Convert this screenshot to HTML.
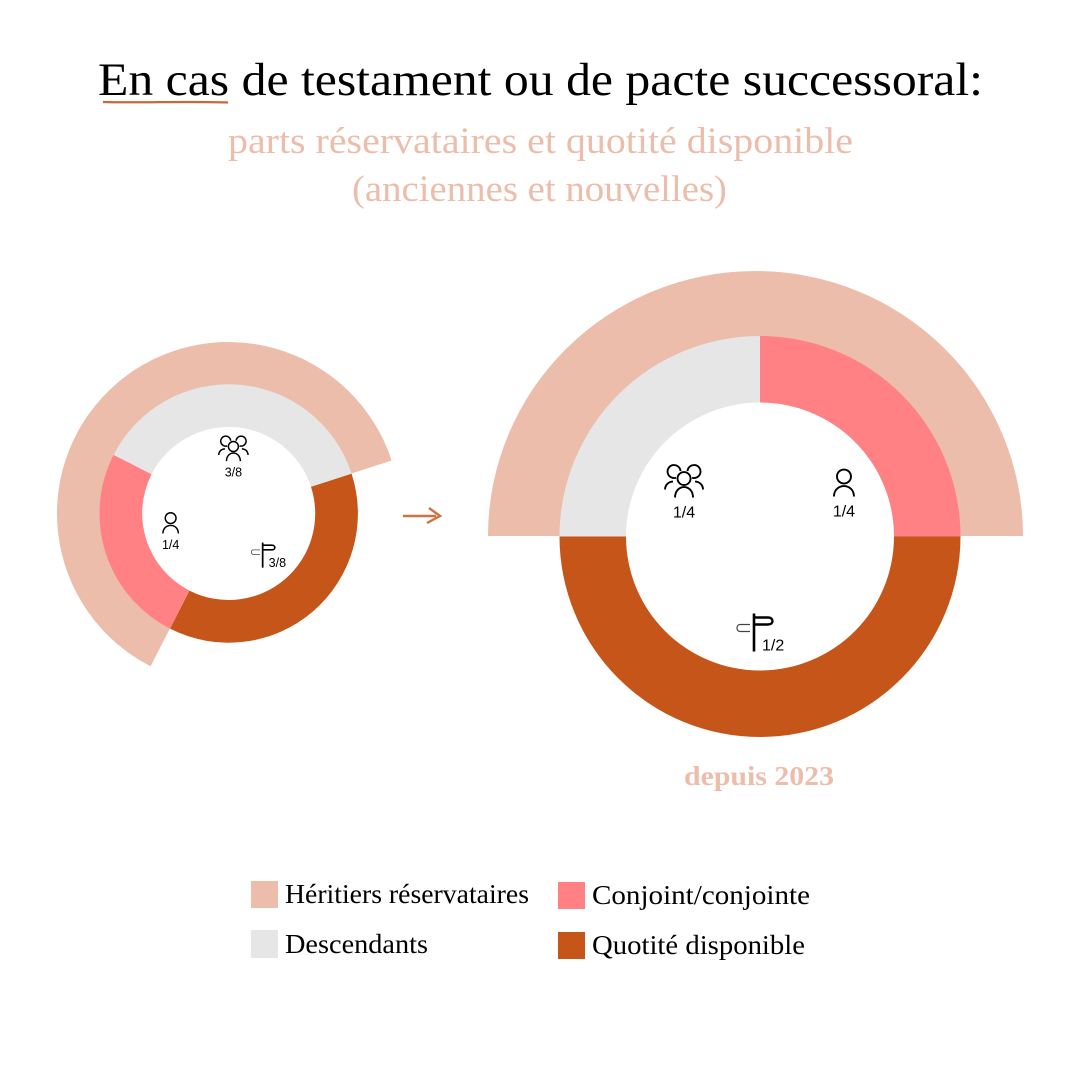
<!DOCTYPE html>
<html lang="fr">
<head>
<meta charset="utf-8">
<title>Parts réservataires et quotité disponible</title>
<style>
html,body{margin:0;padding:0;background:#fff;width:1080px;height:1080px;overflow:hidden}
svg{display:block}
.serif{font-family:"Liberation Serif",serif}
.frac{font-family:"Liberation Sans",sans-serif;fill:#000}
</style>
</head>
<body>
<svg id="chart" xmlns="http://www.w3.org/2000/svg" width="1080" height="1080" viewBox="0 0 1080 1080">
  <text class="serif" x="98" y="95" font-size="47" fill="#000" textLength="885" lengthAdjust="spacingAndGlyphs">En cas de testament ou de pacte successoral:</text>
  <path d="M103 102 C140 103 190 101 228 102.5" fill="none" stroke="#c9683a" stroke-width="2.2"/>
  <text class="serif" x="228" y="153" font-size="37" fill="#ecbdab" textLength="625" lengthAdjust="spacingAndGlyphs">parts réservataires et quotité disponible</text>
  <text class="serif" x="352" y="201" font-size="37" fill="#ecbdab" textLength="375" lengthAdjust="spacingAndGlyphs">(anciennes et nouvelles)</text>
  <g id="old-donut"></g>
  <g id="new-donut"></g>
  <path d="M403 516 H436 M429 508 L440 516 L427 523" fill="none" stroke="#cf7140" stroke-width="2.4"/>
  <text class="serif" x="684" y="785" font-size="27" font-weight="700" fill="#ecbdab" textLength="150" lengthAdjust="spacingAndGlyphs">depuis 2023</text>
  <g>
    <rect x="251" y="881" width="27" height="27" fill="#ecbdab"/>
    <text class="serif" x="285" y="903" font-size="27" textLength="244" lengthAdjust="spacingAndGlyphs">Héritiers réservataires</text>
    <rect x="251" y="930" width="27" height="28" fill="#e6e6e6"/>
    <text class="serif" x="285" y="953" font-size="27" textLength="143" lengthAdjust="spacingAndGlyphs">Descendants</text>
    <rect x="558" y="882" width="27" height="27" fill="#ff8184"/>
    <text class="serif" x="592" y="904" font-size="27" textLength="218" lengthAdjust="spacingAndGlyphs">Conjoint/conjointe</text>
    <rect x="558" y="932" width="27" height="27" fill="#c55518"/>
    <text class="serif" x="592" y="954" font-size="27" textLength="213" lengthAdjust="spacingAndGlyphs">Quotité disponible</text>
  </g>
</svg>
<script>
// Data: slice order runs clockwise from each donut's start angle.
const oldCategories = ['quotite', 'conjoint', 'descendants'];
const oldShares = [0.375, 0.25, 0.375];
const oldLabels = ['3/8', '1/4', '3/8'];
const oldReservedShare = 0.625;

const newCategories = ['quotite', 'descendants', 'conjoint'];
const newShares = [0.5, 0.25, 0.25];
const newLabels = ['1/2', '1/4', '1/4'];
const newReservedShare = 0.5;

const colors = {quotite: '#c55518', conjoint: '#ff8184', descendants: '#e6e6e6', reserved: '#ecbdab'};
const NS = 'http://www.w3.org/2000/svg';

function polar(cx, cy, rx, ry, turn) {
  const a = turn * 2 * Math.PI;
  return [cx + rx * Math.sin(a), cy - ry * Math.cos(a)];
}
function arcPath(cx, cy, r0, rx, ry, t0, t1) {
  const large = (t1 - t0) > 0.5 ? 1 : 0;
  const a = polar(cx, cy, rx, ry, t0), b = polar(cx, cy, rx, ry, t1);
  const c = polar(cx, cy, r0, r0, t1), d = polar(cx, cy, r0, r0, t0);
  return 'M' + a[0] + ' ' + a[1] + 'A' + rx + ' ' + ry + ' 0 ' + large + ' 1 ' + b[0] + ' ' + b[1] +
         'L' + c[0] + ' ' + c[1] + 'A' + r0 + ' ' + r0 + ' 0 ' + large + ' 0 ' + d[0] + ' ' + d[1] + 'Z';
}
const iconShapes = {
  conjoint: '<circle cx="0" cy="-9" r="7"/><path d="M-10 11 C-10 -3 10 -3 10 11"/>',
  descendants: '<circle cx="0" cy="-8" r="6.5"/><path d="M-9 11 C-9 -3 9 -3 9 11"/>' +
    '<path d="M-3.5 -15.5 A6.5 6.5 0 1 0 -8 -8.8"/><path d="M3.5 -15.5 A6.5 6.5 0 1 1 8 -8.8"/>' +
    '<path d="M-19 3 C-19 -2 -15 -5 -11 -5"/><path d="M19 3 C19 -2 15 -5 11 -5"/>',
  quotite: '<path d="M0 -19 V19" stroke-width="2.6"/><path d="M0 -15 H14 C20 -15 20 -8 14 -8 H0" stroke-width="2.4"/>' +
    '<path d="M-4 -8 H-14 C-18 -8 -18 -1 -14 -1 H-4" stroke="#444" stroke-width="1.2"/>'
};
function drawDonut(host, cfg) {
  const start = cfg.start;
  const reserved = document.createElementNS(NS, 'path');
  
  
  const resStart = start + cfg.shares[0];
  reserved.setAttribute('d', arcPath(cfg.ox, cfg.oy, cfg.r1 - 20, cfg.outerRx, cfg.outerRy, resStart, resStart + cfg.reserved));
  reserved.setAttribute('fill', colors.reserved);
  host.appendChild(reserved);

  let t = start;
  cfg.shares.forEach(function (share, i) {
    const cat = cfg.categories[i];
    const slice = document.createElementNS(NS, 'path');
    
    
    slice.setAttribute('d', arcPath(cfg.cx, cfg.cy, cfg.r0, cfg.r1, cfg.r1, t, t + share));
    slice.setAttribute('fill', colors[cat]);
    host.appendChild(slice);
    t += share;
  });

  t = start;
  cfg.shares.forEach(function (share, i) {
    const cat = cfg.categories[i];
    const mid = t + share / 2;
    const p = polar(cfg.cx, cfg.cy, cfg.labelR, cfg.labelR, mid);
    const off = cfg.offsets[cat];
    const x = p[0] + off[0], y = p[1] + off[1];
    const icon = document.createElementNS(NS, 'g');
    
    
    icon.setAttribute('transform', 'translate(' + x + ' ' + y + ') scale(' + cfg.iconScale[cat] + ')');
    icon.setAttribute('fill', 'none');
    icon.setAttribute('stroke', '#000');
    icon.setAttribute('stroke-width', '1.9');
    icon.innerHTML = iconShapes[cat];
    host.appendChild(icon);

    const txt = document.createElementNS(NS, 'text');
    
    
    txt.setAttribute('class', 'frac');
    txt.setAttribute('font-size', cfg.fontSize);
    if (cat === 'quotite') {
      txt.setAttribute('x', x + cfg.signDx);
      txt.setAttribute('y', y + cfg.signDy);
    } else {
      txt.setAttribute('text-anchor', 'middle');
      txt.setAttribute('x', x);
      txt.setAttribute('y', y + cfg.textDy);
    }
    txt.textContent = cfg.labels[i];
    host.appendChild(txt);
    t += share;
  });
}
drawDonut(document.getElementById('old-donut'), {
  cx: 228.7, cy: 513.5, ox: 228.5, oy: 513.5, r0: 86.5, r1: 129.2, outerRx: 171.5, outerRy: 171.5, start: 0.2,
  shares: oldShares, categories: oldCategories, labels: oldLabels, reserved: oldReservedShare,
  labelR: 60, fontSize: 12.5, textDy: 24, signDx: 6, signDy: 12,
  iconScale: {quotite: 0.66, conjoint: 0.77, descendants: 0.77},
  offsets: {quotite: [-5, -4], conjoint: [-1, -7], descendants: [0, -1]}
});
drawDonut(document.getElementById('new-donut'), {
  cx: 760, cy: 536.5, ox: 755.5, oy: 536, r0: 134, r1: 200.5, outerRx: 267.5, outerRy: 265, start: 0.25,
  shares: newShares, categories: newCategories, labels: newLabels, reserved: newReservedShare,
  labelR: 94, fontSize: 16, textDy: 31, signDx: 8, signDy: 18,
  iconScale: {quotite: 1, conjoint: 1, descendants: 1},
  offsets: {quotite: [-6, 2], conjoint: [17.5, 15.5], descendants: [-9.5, 16.5]}
});
</script>
</body>
</html>
